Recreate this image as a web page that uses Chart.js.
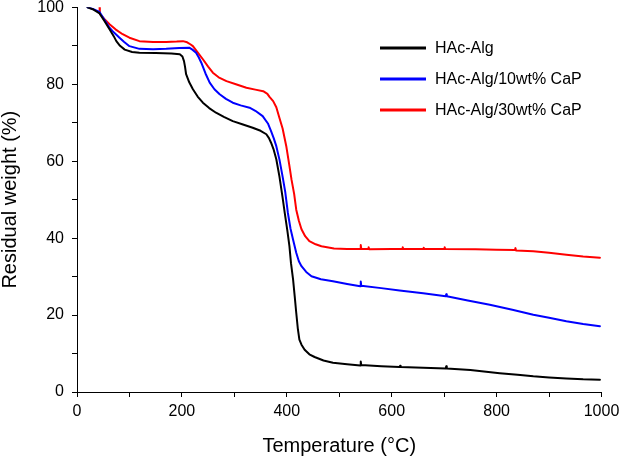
<!DOCTYPE html>
<html>
<head>
<meta charset="utf-8">
<script src="https://cdn.jsdelivr.net/npm/chart.js@4/dist/chart.umd.min.js"></script>
<style>
  html, body { margin: 0; padding: 0; background: #fff; }
  #wrap { width: 621px; height: 457px; }
</style>
</head>
<body>
<div id="wrap"><canvas id="c" width="621" height="457"></canvas></div>
<script>
const seriesLabels = ["HAc-Alg", "HAc-Alg/10wt% CaP", "HAc-Alg/30wt% CaP"];
const seriesColors = ["#000000", "#0000ff", "#ff0000"];

const tempAlg = [20,30,43,52,62,70,75,82,91,105,119,150,180,196,201,204,206,208,214,221,230,240,252,265,280,297,315,335,350,361,366,370,375,380,386,392,396,401,405,408,412,415,418,421,424,428,434,443,453,470,488,515,540,541,542,580,615,616,617,660,703,704,705,750,806,840,870,900,933,965,997];
const wAlg    = [100,99.5,98.4,96.5,94.3,92.5,91.2,90,89,88.4,88.2,88.1,88,87.8,87.2,86,84.5,82.6,80.5,78.7,76.8,75.2,73.8,72.6,71.5,70.4,69.6,68.7,67.9,67,66,64.8,63,60.5,56,50.5,46.6,42,37.9,33.5,29.2,25,20.6,16.5,13.6,12.3,11,9.8,9.1,8.2,7.6,7.2,6.9,7.9,7.0,6.7,6.5,6.8,6.5,6.3,6.1,6.7,6.1,5.7,4.9,4.5,4.1,3.8,3.5,3.3,3.2];

const temp10 = [20,30,43,52,62,70,81,90,100,119,145,170,195,214,220,227,232,237,245,253,262,272,284,297,312,329,340,354,364,370,375,380,386,392,397,402,407,412,418,423,428,437,447,465,488,515,540,541,542,580,615,660,703,704,705,745,787,830,870,900,933,965,997];
const w10    = [100,99.6,98.8,96.8,94.7,93.5,92.1,91,89.9,89.2,89.1,89.2,89.4,89.5,89,88.2,87,85.6,82.8,80.4,78.7,77.4,76.2,75.2,74.5,73.9,73.1,71.7,69.8,67.8,66,63.9,60.4,56,52,46.6,42.5,39.6,36.2,34,32.7,31.2,30.1,29.3,28.8,28.1,27.5,28.7,27.6,27,26.4,25.7,24.9,25.4,24.9,23.8,22.7,21.4,20.1,19.3,18.4,17.7,17.1];

const temp30 = [43,43.5,52,62,74,87,100,119,145,170,190,202,210,216,221,230,240,250,259,270,285,303,323,340,355,363,367,374,380,386,392,399,405,409,414,418,423,428,435,443,455,466,490,515,540,541,542,555,556,557,600,620,621,622,660,661,662,700,701,702,760,800,835,836,837,870,900,933,965,997];
const w30    = [100.3,98.3,97,95.6,94.2,93,92.1,91.2,91,91,91.1,91.2,90.9,90.4,89.9,88.3,86.5,84.6,83,81.8,80.8,80,79.1,78.6,78.2,77.5,76.7,75.6,74,71.2,68.5,63.9,58.8,55.2,51.5,47.4,44.5,42.3,40.5,39.2,38.4,37.9,37.3,37.2,37.2,38.2,37.2,37.2,37.6,37.1,37.2,37.2,37.6,37.2,37.2,37.5,37.2,37.2,37.6,37.2,37.1,37,36.9,37.4,36.8,36.6,36.2,35.7,35.2,34.9];

const xTickStep = 100, xMin = 0, xMax = 1000;
const yTickStep = 10, yMin = 0, yMax = 100;
const xTitle = "Temperature (°C)";
const yTitle = "Residual weight (%)";

function pts(xs, ys) { return xs.map((x, i) => ({ x: x, y: ys[i] })); }

const FONT = "'Liberation Sans', Arial, sans-serif";

const legendPlugin = {
  id: 'insideLegend',
  afterDraw(chart) {
    const ctx = chart.ctx;
    ctx.save();
    ctx.font = "16px " + FONT;
    ctx.textBaseline = 'middle';
    ctx.textAlign = 'left';
    const rowsY = [48, 79, 110];
    chart.data.datasets.forEach((ds, i) => {
      const y = rowsY[i];
      ctx.strokeStyle = ds.borderColor;
      ctx.lineWidth = 3;
      ctx.beginPath();
      ctx.moveTo(380, y);
      ctx.lineTo(426, y);
      ctx.stroke();
      ctx.fillStyle = '#000';
      ctx.fillText(ds.label, 435, y + 1);
    });
    ctx.restore();
  }
};

new Chart(document.getElementById('c'), {
  type: 'line',
  data: {
    datasets: [
      { label: seriesLabels[0], data: pts(tempAlg, wAlg), borderColor: seriesColors[0] },
      { label: seriesLabels[1], data: pts(temp10, w10), borderColor: seriesColors[1] },
      { label: seriesLabels[2], data: pts(temp30, w30), borderColor: seriesColors[2] }
    ].map(d => Object.assign(d, { borderWidth: 2, pointRadius: 0, tension: 0, fill: false, borderJoinStyle: 'round', borderCapStyle: 'round' }))
  },
  options: {
    responsive: false,
    animation: false,
    devicePixelRatio: 1,
    layout: { padding: { left: 0, right: 19.5, top: 7.3, bottom: 0 } },
    plugins: { legend: { display: false }, tooltip: { enabled: false } },
    scales: {
      x: {
        type: 'linear', min: xMin, max: xMax,
        border: { display: true, color: '#000', width: 1 },
        grid: { display: true, drawOnChartArea: false, drawTicks: true, tickLength: 5, color: '#000', lineWidth: 1 },
        ticks: {
          stepSize: xTickStep, autoSkip: false, maxRotation: 0, padding: 7, color: '#000',
          font: { family: FONT, size: 16, lineHeight: 1 },
          callback: v => (v % 200 === 0 ? String(v) : '')
        },
        title: { display: true, text: xTitle, color: '#000', padding: { top: 0, bottom: -1 }, font: { family: FONT, size: 20, lineHeight: 1.2 } },
        afterFit(scale) { scale.height = 65; scale.paddingLeft = 0; scale.paddingRight = 0; }
      },
      y: {
        type: 'linear', min: yMin, max: yMax,
        border: { display: true, color: '#000', width: 1 },
        grid: { display: true, drawOnChartArea: false, drawTicks: true, tickLength: 5, color: '#000', lineWidth: 1 },
        ticks: {
          stepSize: yTickStep, autoSkip: false, padding: 8, color: '#000',
          font: { family: FONT, size: 16, lineHeight: 1 },
          callback: v => (v % 20 === 0 ? String(v) : '')
        },
        title: { display: true, text: yTitle, color: '#000', padding: 0, font: { family: FONT, size: 20, lineHeight: 1 } },
        afterFit(scale) { scale.width = 77; scale.paddingTop = 0; scale.paddingBottom = 0; }
      }
    }
  },
  plugins: [legendPlugin]
});
</script>
</body>
</html>
